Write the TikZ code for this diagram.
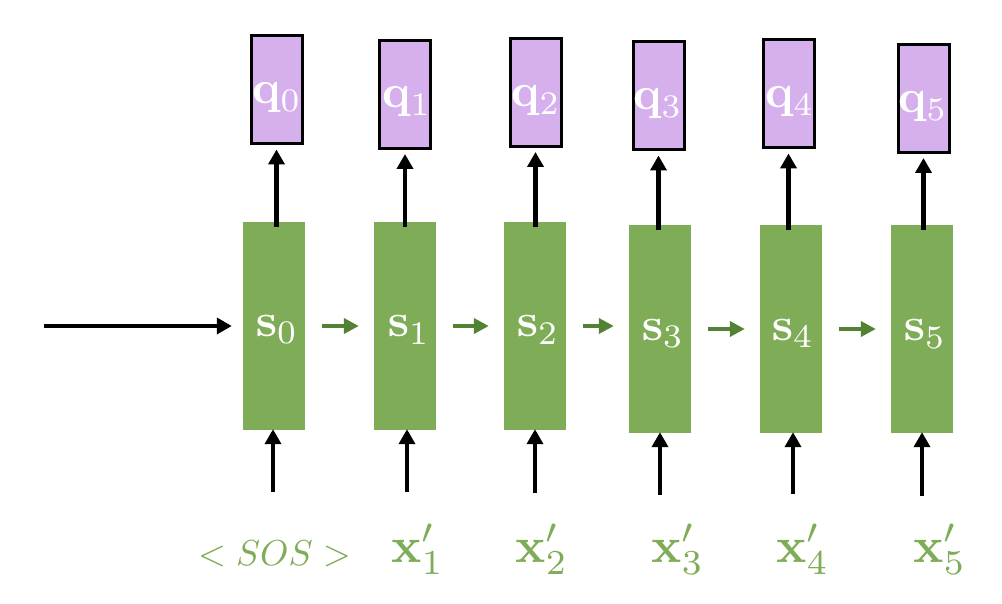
\documentclass[tikz,border=0pt]{standalone}
\usepackage{graphicx}
\usetikzlibrary{arrows.meta}
\definecolor{boxgreen}{HTML}{7FAC56}
\definecolor{arrgreen}{HTML}{548235}
\definecolor{boxpurple}{HTML}{D6B0EC}
\newcommand\myscS[1]{\scalebox{4.7}{#1}}
\newcommand\myscX[1]{\scalebox{5}{#1}}
\newcommand\myscO[1]{\scalebox{3.6}{#1}}
\begin{document}
\begin{tikzpicture}[x=1pt,y=-1pt,
  sbox/.style={fill=boxgreen,draw=none,minimum width=62pt,minimum height=208pt,inner sep=0pt},
  qbox/.style={fill=boxpurple,draw=black,line width=3pt,minimum width=51pt,minimum height=108pt,inner sep=0pt},
  slabel/.style={text=white,anchor=base,inner sep=0pt},
  xlabel/.style={text=boxgreen,anchor=base,inner sep=0pt},
  blk/.style={draw=black,line width=4.5pt,-{Triangle[length=15pt,width=16pt]}},
  grn/.style={draw=arrgreen,line width=4.5pt,-{Triangle[length=15pt,width=15pt]},shorten <=17pt,shorten >=15pt}
]
\useasboundingbox (0,0) rectangle (1002,604);
% state boxes
\node[sbox] (s0) at (274,326) {};
\node[sbox] (s1) at (405,326) {};
\node[sbox] (s2) at (535,326) {};
\node[sbox] (s3) at (660,329) {};
\node[sbox] (s4) at (791,329) {};
\node[sbox] (s5) at (922,329) {};
% output boxes
\node[qbox] (q0) at (276.5,90) {};
\node[qbox] (q1) at (405,94.5) {};
\node[qbox] (q2) at (535.5,92.5) {};
\node[qbox] (q3) at (658.5,96) {};
\node[qbox] (q4) at (788.5,94) {};
\node[qbox] (q5) at (923.5,98.5) {};
% labels in state boxes
\node[slabel] (ls0) at (277,336) {\myscS{$\mathbf{s}_0$}};
\node[slabel] (ls1) at (409,337) {\myscS{$\mathbf{s}_1$}};
\node[slabel] (ls2) at (538,337) {\myscS{$\mathbf{s}_2$}};
\node[slabel] (ls3) at (663,340) {\myscS{$\mathbf{s}_3$}};
\node[slabel] (ls4) at (793,340) {\myscS{$\mathbf{s}_4$}};
\node[slabel] (ls5) at (925,341) {\myscS{$\mathbf{s}_5$}};
% labels in output boxes
\node[slabel] (lq0) at (277,104) {\myscS{$\mathbf{q}_0$}};
\node[slabel] (lq1) at (407,108) {\myscS{$\mathbf{q}_1$}};
\node[slabel] (lq2) at (536,107) {\myscS{$\mathbf{q}_2$}};
\node[slabel] (lq3) at (658,110) {\myscS{$\mathbf{q}_3$}};
\node[slabel] (lq4) at (790,108) {\myscS{$\mathbf{q}_4$}};
\node[slabel] (lq5) at (923,113) {\myscS{$\mathbf{q}_5$}};
% input labels
\node[xlabel] (sos) at (274.5,565) {\myscO{$<SOS>$}};
\node[xlabel] (x1) at (418,562) {\myscX{$\mathbf{x}'_1$}};
\node[xlabel] (x2) at (542,562) {\myscX{$\mathbf{x}'_2$}};
\node[xlabel] (x3) at (678,562) {\myscX{$\mathbf{x}'_3$}};
\node[xlabel] (x4) at (803,562) {\myscX{$\mathbf{x}'_4$}};
\node[xlabel] (x5) at (940,562) {\myscX{$\mathbf{x}'_5$}};
% input arrow tails
\coordinate (start) at (44,326);
\coordinate (i0) at (273,492);
\coordinate (i1) at (407,492);
\coordinate (i2) at (535,493);
\coordinate (i3) at (660,495);
\coordinate (i4) at (793,494);
\coordinate (i5) at (922,496);
% initial arrow
\draw[blk,line width=4pt,shorten >=11pt] (start) -- (s0.west);
% recurrent arrows
\draw[grn] (s0.east) -- (s1.west);
\draw[grn] (s1.east) -- (s2.west);
\draw[grn] (s2.east) -- (s2.east -| s3.west);
\draw[grn] (s3.east) -- (s4.west);
\draw[grn] (s4.east) -- (s5.west);
% input arrows
\foreach \i in {0,...,5}{
  \draw[blk,shorten >=-1pt] (i\i) -- (i\i |- s\i.south);
}
% output arrows
\foreach \i in {0,...,5}{
  \draw[blk,shorten >=4pt] ([yshift=-5pt]q\i.south |- s\i.north) -- (q\i.south);
}
\end{tikzpicture}
\end{document}
